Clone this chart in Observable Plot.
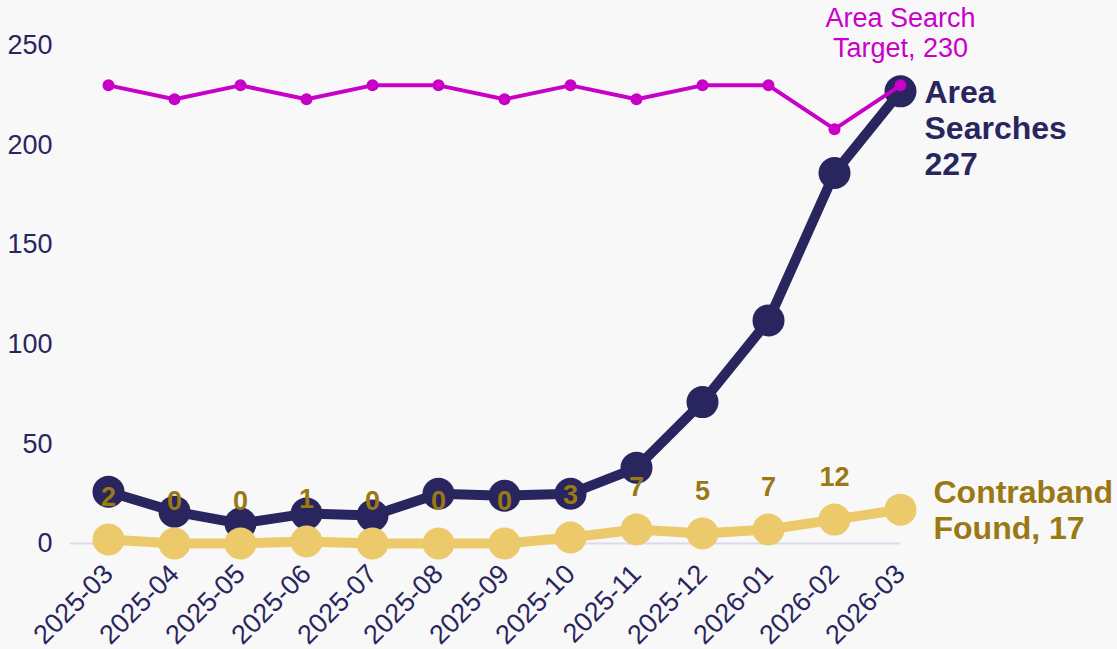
<!DOCTYPE html>
<html>
<head>
<meta charset="utf-8">
<script src="https://cdn.jsdelivr.net/npm/d3@7"></script>
<script src="https://cdn.jsdelivr.net/npm/@observablehq/plot@0.6"></script>
<style>
  html, body { margin: 0; padding: 0; background: #f8f8f8; }
  #chart svg { display: block; background: #f8f8f8; }
</style>
</head>
<body>
<div id="chart"></div>
<script>
const months = ["2025-03","2025-04","2025-05","2025-06","2025-07","2025-08","2025-09","2025-10","2025-11","2025-12","2026-01","2026-02","2026-03"];
const areaSearches = [26, 16, 10, 15, 14, 25, 24, 25, 38, 71, 112, 186, 227];
const contraband = [2, 0, 0, 1, 0, 0, 0, 3, 7, 5, 7, 12, 17];
const target = [230, 223, 230, 223, 230, 230, 223, 230, 223, 230, 230, 208, 230];
const yTicks = [0, 50, 100, 150, 200, 250];

const searchRows = months.map((m, i) => ({month: m, value: areaSearches[i]}));
const contraRows = months.map((m, i) => ({month: m, value: contraband[i]}));
const targetRows = months.map((m, i) => ({month: m, value: target[i]}));
const last = months.length - 1;

const navy = "#29265f", gold = "#ecca6b", goldText = "#9a7814", magenta = "#c800c8";
const font = "Liberation Sans, Arial, sans-serif";

const chart = Plot.plot({
  width: 1117,
  height: 649,
  marginLeft: 70,
  marginRight: 217,
  marginTop: 45,
  marginBottom: 106,
  style: {fontFamily: font, background: "#f8f8f8"},
  x: {type: "point", domain: months, range: [108, 900], padding: 0},
  y: {domain: [0, 250]},
  marks: [
    Plot.ruleY([0], {stroke: "#dcd8ee", strokeWidth: 2}),
    Plot.axisY({ticks: yTicks, tickSize: 0, tickPadding: 18, fontSize: 27, color: navy, label: null}),
    Plot.axisX({tickSize: 0, tickRotate: -45, tickPadding: 26, fontSize: 27, color: navy, label: null}),
    Plot.line(searchRows, {x: "month", y: "value", stroke: navy, strokeWidth: 10}),
    Plot.dot(searchRows, {x: "month", y: "value", r: 16, fill: navy}),
    Plot.line(contraRows, {x: "month", y: "value", stroke: gold, strokeWidth: 10}),
    Plot.dot(contraRows, {x: "month", y: "value", r: 16, fill: gold}),
    Plot.line(targetRows, {x: "month", y: "value", stroke: magenta, strokeWidth: 4}),
    Plot.dot(targetRows, {x: "month", y: "value", r: 6, fill: magenta}),
    Plot.text(contraRows.slice(0, last), {x: "month", y: "value", text: d => String(d.value), dy: -42, fill: goldText, fontSize: 27, fontWeight: "bold"}),
    Plot.text([targetRows[last]], {x: "month", y: "value", text: d => "Area Search\nTarget, " + d.value, dy: -28, lineAnchor: "bottom", lineHeight: 1.11, fill: magenta, fontSize: 27}),
    Plot.text([searchRows[last]], {x: "month", y: "value", text: d => "Area\nSearches\n" + d.value, dx: 24, dy: -14, textAnchor: "start", lineAnchor: "top", lineHeight: 1.13, fill: navy, fontSize: 32, fontWeight: "bold"}),
    Plot.text([contraRows[last]], {x: "month", y: "value", text: d => "Contraband\nFound, " + d.value, dx: 33, textAnchor: "start", lineAnchor: "middle", lineHeight: 1.13, fill: goldText, fontSize: 32, fontWeight: "bold"})
  ]
});
document.getElementById("chart").append(chart);
</script>
</body>
</html>
